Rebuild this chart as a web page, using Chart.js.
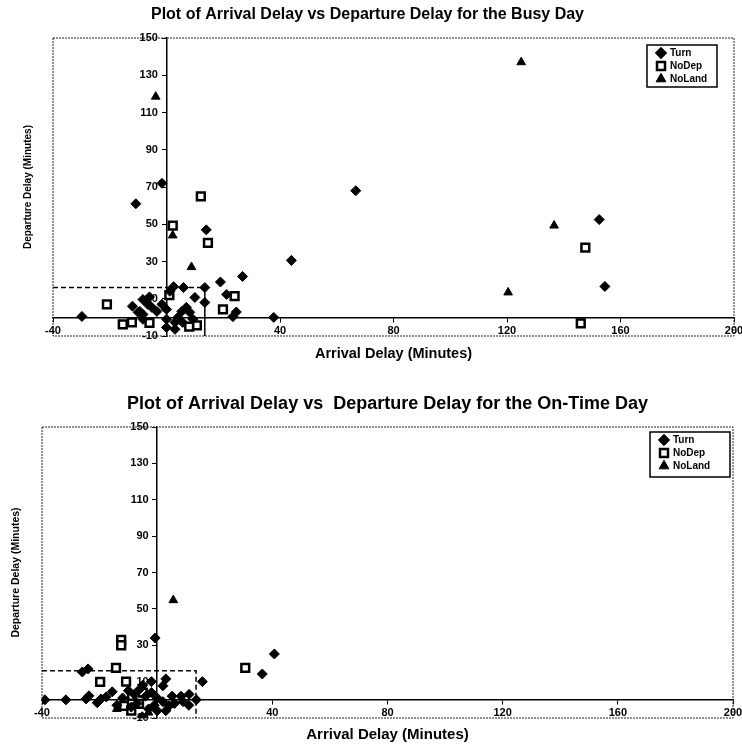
<!DOCTYPE html>
<html>
<head>
<meta charset="utf-8">
<script src="https://cdn.jsdelivr.net/npm/chart.js@4.4.1/dist/chart.umd.min.js"></script>
<style>
  html, body { margin: 0; padding: 0; background: #fff; }
  .plot { position: absolute; left: 0; width: 742px; height: 372px; }
  #busyWrap { top: 0; }
  #onTimeWrap { top: 372px; }
</style>
</head>
<body>
<div class="plot" id="busyWrap"><canvas id="busyChart"></canvas></div>
<div class="plot" id="onTimeWrap"><canvas id="onTimeChart"></canvas></div>
<script>
// Axis ticks (same for both plots)
const xTicks = [-40, 40, 80, 120, 160, 200];
const yTicks = [-10, 10, 30, 50, 70, 90, 110, 130, 150];

// Busy day: arrival delay (x) vs departure delay (y), minutes
const busyTurnArrival = [-1.6, -10.8, 14, 66.7, 44, 26.8, 152.5, 154.5, 37.8, 19, 21.2, 10, 13.5, 13.5, 23.4, 24.6, -29.8, -8.3, -6.6, -9.4, -8.3, -5.2, -3.4, -1.6, 0, 0, 0, 1.2, 2.5, 6, 5.4, 7, 8.2, 4, 3, 5.7, 9.3, 3, -8.3, -6, -10, -12];
const busyTurnDeparture = [72, 61, 47, 68, 30.6, 22, 52.5, 16.6, 0, 19, 12.3, 10.7, 8, 16, 0.4, 2.9, 0.5, 9.6, 7, 3.2, 1.6, 5.4, 3.2, 7, 4.3, -1, -5.4, 14, 16.5, 16, 3.2, 5.4, 2.7, 0, -2.7, -2.7, -1, -6.4, -1, 11, 2.7, 6];
const busyNoDepArrival = [12.1, 2.2, 14.6, -21, -15.4, -12.2, 24, 19.9, 10.7, 146, 147.6, 1, 8, -6];
const busyNoDepDeparture = [65, 49.3, 40, 7, -3.8, -2.7, 11.4, 4.3, -4.3, -3.2, 37.5, 12, -5, -3];
const busyNoLandArrival = [-3.8, 125, 2.2, 8.8, 136.6, 120.4];
const busyNoLandDeparture = [118.5, 137, 44, 27, 49.3, 13.4];

// On-time day
const onTimeTurnArrival = [-0.7, 36.5, 40.7, 15.7, 3, 2, -26, -24, -39, -31.7, -24.7, -23.7, -20.8, -19.5, -17.7, -15.6, -5.2, -2, 5.2, 8.3, 11.1, 4.2, 13.6, -10, -8, -6, -4, -2, 0, -1, -3, -7, -9, 2, 3, 6, 9, -12, -14, 0, -5, 11];
const onTimeTurnDeparture = [34, 14.2, 25.2, 10, 11.5, 7.7, 15.3, 17, 0, 0, 0.5, 2.2, -1.6, 0.5, 1.6, 4.4, -9.3, 10, 2, 2, 3, -3.3, 0, 5, 3, 6, 2, 4, 1, -3, -5, -2, -4, -1, -6, -2, -1, 1, -3, -6, 8, -3];
const onTimeNoDepArrival = [-12.5, -12.5, 30.6, -14.3, -19.8, -10.8, -8.7, -11.5, -6.3, -5, -9];
const onTimeNoDepDeparture = [33, 30, 17.5, 17.5, 9.9, 10, 2.2, -3.3, -2.2, 4, -6];
const onTimeNoLandArrival = [5.6, -14, -3];
const onTimeNoLandDeparture = [54.8, -5, -7];

// 15-minute reference box corner
const refBoxArrival = [-40, 13.5, 13.5];
const refBoxDeparture = [16, 16, -10];

Chart.defaults.font.family = "'Liberation Sans', Arial, sans-serif";
Chart.defaults.color = '#000';

const pts = (xs, ys) => xs.map((x, i) => ({x, y: ys[i]}));

// dotted frame round the plot area
const framePlugin = {
    id: 'frame',
    beforeDatasetsDraw(chart) {
        const {ctx, chartArea: a} = chart;
        ctx.save();
        ctx.strokeStyle = '#222';
        ctx.lineWidth = 1;
        ctx.setLineDash([2, 1]);
        ctx.strokeRect(a.left, a.top, a.right - a.left, a.bottom - a.top);
        ctx.restore();
    }
};

// move the legend to the top right corner of the plot and box it
const legendBoxPlugin = {
    id: 'legendBox',
    beforeDraw(chart, args, opts) {
        const lg = chart.legend;
        const a = chart.chartArea;
        lg.left = a.right - opts.right;
        lg.top = a.top + opts.top;
        lg.bottom = lg.top + opts.height;
    },
    afterDraw(chart, args, opts) {
        const lg = chart.legend;
        const ctx = chart.ctx;
        ctx.save();
        ctx.strokeStyle = '#000';
        ctx.lineWidth = 1.5;
        ctx.strokeRect(lg.left - 7, lg.top, opts.width, opts.height);
        ctx.restore();
    }
};

function makeChart(id, title, s, lay) {
    return new Chart(document.getElementById(id), {
        type: 'scatter',
        data: {
            datasets: [{
                label: 'Turn',
                data: pts(s.turnX, s.turnY),
                pointStyle: 'rectRot',
                pointRadius: 5,
                backgroundColor: '#000',
                borderColor: '#000',
                borderWidth: 1
            }, {
                label: 'NoDep',
                data: pts(s.depX, s.depY),
                pointStyle: 'rect',
                pointRadius: 5.5,
                backgroundColor: '#fff',
                borderColor: '#000',
                borderWidth: 2.5
            }, {
                label: 'NoLand',
                data: pts(s.landX, s.landY),
                pointStyle: 'triangle',
                pointRadius: 5,
                backgroundColor: '#000',
                borderColor: '#000',
                borderWidth: 1
            }, {
                label: 'box',
                data: pts(refBoxArrival, refBoxDeparture),
                showLine: true,
                pointRadius: 0,
                borderColor: '#000',
                borderWidth: 1.5,
                borderDash: [5, 3],
                segment: {
                    borderDash: ctx => (ctx.p0DataIndex === 1 && lay.solidEdge) ? [] : [5, 3]
                }
            }]
        },
        options: {
            responsive: true,
            maintainAspectRatio: false,
            animation: false,
            layout: {padding: {left: 0, right: lay.padRight, top: 0, bottom: 0}},
            scales: {
                x: {
                    type: 'linear',
                    min: -40,
                    max: 200,
                    position: {y: 0},
                    afterBuildTicks: axis => { axis.ticks = xTicks.map(value => ({value})); },
                    afterFit: axis => { axis.paddingLeft = 0; axis.paddingRight = 0; },
                    ticks: {color: '#000', font: {size: 11, weight: 'bold'}, padding: 3, maxRotation: 0, autoSkip: false},
                    grid: {drawOnChartArea: false, tickLength: 4, color: '#000'},
                    border: {color: '#000', width: 1.5}
                },
                y: {
                    type: 'linear',
                    min: -10,
                    max: 150,
                    position: {x: 0},
                    afterBuildTicks: axis => { axis.ticks = yTicks.map(value => ({value})); },
                    // labels sit right on the axis here, so keep a gap with an en space
                    ticks: {color: '#000', font: {size: 11, weight: 'bold'}, autoSkip: false, callback: v => v + '\u2002 '},
                    grid: {drawOnChartArea: false, tickLength: 4, color: '#000'},
                    border: {color: '#000', width: 1.5}
                },
                xTitle: {
                    type: 'linear',
                    position: 'bottom',
                    ticks: {display: false},
                    grid: {display: false, drawTicks: false},
                    border: {display: false},
                    title: {
                        display: true,
                        text: 'Arrival Delay (Minutes)',
                        color: '#000',
                        font: {size: lay.xTitleSize, weight: 'bold'},
                        padding: lay.xTitlePad
                    }
                },
                yTitle: {
                    type: 'linear',
                    position: 'left',
                    ticks: {display: false},
                    grid: {display: false, drawTicks: false},
                    border: {display: false},
                    title: {
                        display: true,
                        text: 'Departure Delay (Minutes)',
                        color: '#000',
                        font: {size: lay.yTitleSize, weight: 'bold'},
                        padding: lay.yTitlePad
                    }
                }
            },
            plugins: {
                title: {
                    display: true,
                    text: title,
                    color: '#000',
                    fullSize: lay.titleFull,
                    font: {size: lay.titleSize, weight: 'bold'},
                    padding: lay.titlePad
                },
                legend: {
                    position: 'chartArea',
                    align: 'start',
                    labels: {
                        filter: item => item.datasetIndex < 3,
                        usePointStyle: true,
                        boxWidth: 8,
                        boxHeight: 8,
                        padding: 3,
                        color: '#000',
                        font: {size: 10, weight: 'bold'}
                    }
                },
                legendBox: lay.legend,
                tooltip: {enabled: false}
            }
        },
        plugins: [framePlugin, legendBoxPlugin]
    });
}

makeChart('busyChart', 'Plot of Arrival Delay vs Departure Delay for the Busy Day', {
    turnX: busyTurnArrival, turnY: busyTurnDeparture,
    depX: busyNoDepArrival, depY: busyNoDepDeparture,
    landX: busyNoLandArrival, landY: busyNoLandDeparture
}, {
    padRight: 7,
    solidEdge: true,
    titleFull: true,
    titleSize: 16,
    titlePad: {top: 5.4, bottom: 13.4},
    xTitleSize: 14.5,
    xTitlePad: {top: 9.3, bottom: 9.3},
    yTitleSize: 10,
    yTitlePad: {top: 22, bottom: 19},
    legend: {right: 80, top: 7, width: 70, height: 42}
});

makeChart('onTimeChart', 'Plot of Arrival Delay vs  Departure Delay for the On-Time Day', {
    turnX: onTimeTurnArrival, turnY: onTimeTurnDeparture,
    depX: onTimeNoDepArrival, depY: onTimeNoDepDeparture,
    landX: onTimeNoLandArrival, landY: onTimeNoLandDeparture
}, {
    padRight: 9,
    solidEdge: false,
    titleFull: false,
    titleSize: 18,
    titlePad: {top: 21.2, bottom: 12.2},
    xTitleSize: 15,
    xTitlePad: {top: 8, bottom: 0},
    yTitleSize: 10.5,
    yTitlePad: {top: 9.7, bottom: 19.7},
    legend: {right: 76, top: 5, width: 80, height: 45}
});
</script>
</body>
</html>
